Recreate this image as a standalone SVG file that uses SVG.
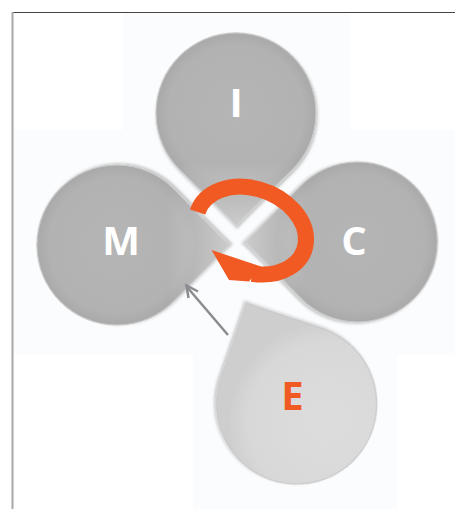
<svg xmlns="http://www.w3.org/2000/svg" width="455" height="509" viewBox="0 0 455 509">
  <style>
    .lbl { font-family: "Open Sans", "Liberation Sans", sans-serif; font-weight: 700; font-size: 40px; text-anchor: middle; }
    .white { fill: #ffffff; }
    .orange { fill: #f15a22; }
    .petal { stroke: #c8c8c8; stroke-width: 1.2; filter: url(#soft); }
  </style>
  <defs>
    <!-- teardrop: round body centred on the origin, tip pointing along +y -->
    <path id="drop" d="M0 113 C2 110 40 73 56.5 56.6 A80 80 0 1 0 -56.5 56.6 C-40 73 -2 110 0 113 Z"/>
    <radialGradient id="gDark" cx="0" cy="0" r="80" gradientUnits="userSpaceOnUse">
      <stop offset="0" stop-color="#b5b5b5"/>
      <stop offset="0.85" stop-color="#b2b2b2"/>
      <stop offset="1" stop-color="#a9a9a9"/>
    </radialGradient>
    <radialGradient id="gLight" cx="-20" cy="-30" r="100" gradientUnits="userSpaceOnUse">
      <stop offset="0" stop-color="#dddddd"/>
      <stop offset="0.8" stop-color="#d8d8d8"/>
      <stop offset="1" stop-color="#cecece"/>
    </radialGradient>
    <linearGradient id="gTip" x1="0" y1="50" x2="0" y2="113" gradientUnits="userSpaceOnUse">
      <stop offset="0" stop-color="#ffffff" stop-opacity="0"/>
      <stop offset="1" stop-color="#ffffff" stop-opacity="0.4"/>
    </linearGradient>
    <filter id="soft" x="-20%" y="-20%" width="140%" height="140%">
      <feDropShadow dx="1" dy="2" stdDeviation="1.6" flood-color="#000" flood-opacity="0.25"/>
    </filter>
  </defs>

  <rect width="455" height="509" fill="#ffffff"/>
  <!-- faint backdrop panels -->
  <rect x="123" y="13" width="227" height="117" fill="#fbfcfd"/>
  <rect x="13" y="130" width="442" height="225" fill="#fbfcfd"/>
  <rect x="193" y="355" width="204" height="154" fill="#fbfcfd"/>

  <!-- frame -->
  <line x1="12" y1="12.5" x2="455" y2="12.5" stroke="#444" stroke-width="1"/>
  <line x1="12.5" y1="12" x2="12.5" y2="509" stroke="#a8a8a8" stroke-width="2"/>

  <g id="node-I">
    <g transform="translate(236 113)">
      <use href="#drop" class="petal" fill="url(#gDark)"/>
      <use href="#drop" fill="url(#gTip)"/>
    </g>
    <text class="lbl white" x="236" y="117">I</text>
  </g>

  <g id="node-M">
    <g transform="translate(117 245) rotate(-90)">
      <use href="#drop" class="petal" fill="url(#gDark)"/>
      <use href="#drop" fill="url(#gTip)"/>
    </g>
    <text class="lbl white" x="121" y="255">M</text>
  </g>

  <g id="node-C">
    <g transform="translate(357.5 242) rotate(90)">
      <use href="#drop" class="petal" fill="url(#gDark)"/>
      <use href="#drop" fill="url(#gTip)"/>
    </g>
    <text class="lbl white" x="354" y="255">C</text>
  </g>

  <g id="node-E">
    <g transform="translate(296.7 404) rotate(153.7)">
      <use href="#drop" class="petal" fill="url(#gLight)"/>
    </g>
    <text class="lbl orange" x="292.5" y="410">E</text>
  </g>

  <g id="connectors">
    <!-- cycle loop -->
    <path d="M197.6 212 A56.6 41.8 20.7 1 1 252 273.8" fill="none" stroke="#f15a22" stroke-width="16"/>
    <polygon points="211.5,250 261,266.5 249,281.5 229,280" fill="#f15a22"/>
    <!-- E feeds M -->
    <line x1="228" y1="335" x2="187" y2="287" stroke="#8a8c90" stroke-width="2.5"/>
    <polyline points="198,291.5 186.5,285.5 188.5,298" fill="none" stroke="#8a8c90" stroke-width="2.5"/>
  </g>
</svg>
